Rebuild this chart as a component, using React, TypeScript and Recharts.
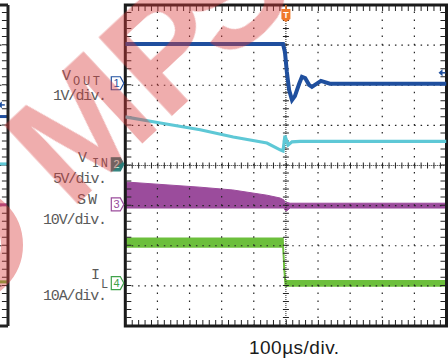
import {
  ComposedChart,
  Line,
  Area,
  XAxis,
  YAxis,
  ReferenceLine,
  ReferenceArea,
  ReferenceDot,
} from "recharts";

// x: time in µs (100µs/div, trigger at 0). y: screen divisions (0 = bottom, 8 = top)
const voutT = [-500, -9, -3, 3, 10, 19, 28, 41, 50, 60, 72, 81, 94, 109, 137, 500];
const voutDiv = [7.03, 7.03, 6.83, 6.33, 5.88, 5.63, 5.73, 6.03, 6.21, 6.18, 6.01, 5.96, 6.03, 6.11, 6.04, 6.04];

const vinT = [-500, -391, -267, -164, -59, -18, -9, -3, 7, 19, 44, 500];
const vinDiv = [5.21, 5.06, 4.89, 4.71, 4.56, 4.39, 4.36, 4.74, 4.51, 4.59, 4.6, 4.6];

const swT = [-500, -268, -165, -59, -18, -6, -3, 3, 13, 500];
const swLow = [2.94, 2.94, 2.94, 2.94, 2.94, 2.94, 2.89, 2.87, 2.94, 2.94];
const swHigh = [3.59, 3.46, 3.39, 3.26, 3.19, 3.14, 3.06, 3.08, 3.06, 3.06];

const ilT = [-500, -9, -6, -2, 500];
const ilLow = [1.97, 1.97, 1.45, 1.0, 1.0];
const ilHigh = [2.19, 2.19, 1.6, 1.13, 1.13];

// channel reference markers (1..4) and the ref arrow on the right
const chLabels = ["1", "2", "3", "4"];
const chLevels = [6.05, 4.03, 3.03, 1.07];
const refArrowLevel = 6.31;

// previous screen, cut off on the left
const leftLevels = [5.22, 4.04, 3.02, 1.1];
const leftArrowLevel = 5.51;

const gridX = [-400, -300, -200, -100, 100, 200, 300, 400];
const gridY = [1, 2, 3, 5, 6, 7];

const C_VOUT = "#1f4f9e";
const C_VIN = "#5ec8d6";
const C_SW = "#9b4c9c";
const C_IL = "#6cbf3c";
const chColors = [C_VOUT, "#2a7d79", C_SW, "#3fa24a"];
const INK = "#222";

const voutData = voutT.map((t, i) => ({ t, v: voutDiv[i] }));
const vinData = vinT.map((t, i) => ({ t, v: vinDiv[i] }));
const swData = swT.map((t, i) => ({ t, v: [swLow[i], swHigh[i]] }));
const ilData = ilT.map((t, i) => ({ t, v: [ilLow[i], ilHigh[i]] }));

const ChannelTag = ({ cx, cy, color, label, filled }: any) => (
  <g>
    <path
      d={`M${cx - 14},${cy - 6.5} h9 l3.5,6.5 l-3.5,6.5 h-9 z`}
      fill={filled ? color : "#fff"}
      stroke={color}
      strokeWidth={1.2}
    />
    <text
      x={cx - 8.7}
      y={cy + 4}
      textAnchor="middle"
      fontSize={11}
      fontFamily="Liberation Sans, Arial"
      fill={filled ? "#cfe" : color}
    >
      {label}
    </text>
  </g>
);

const TriggerTag = ({ cx, cy }: any) => (
  <g>
    <line x1={cx} x2={cx} y1={cy} y2={cy + 4} stroke="#f07a2a" strokeWidth={1.5} />
    <path d={`M${cx - 4.5},${cy + 4} h9 v10 l-4.5,3 l-4.5,-3 z`} fill="#f07a2a" />
    <text
      x={cx}
      y={cy + 13}
      textAnchor="middle"
      fontSize={9}
      fontWeight="bold"
      fontFamily="Liberation Sans, Arial"
      fill="#fff"
    >
      T
    </text>
  </g>
);

const LeftArrow = ({ cx, cy, dx = 0 }: any) => (
  <g>
    <path d={`M${cx + dx - 7},${cy} l4,-3.5 v7 z`} fill={C_VOUT} />
    <line x1={cx + dx - 4} x2={cx + dx} y1={cy} y2={cy} stroke={C_VOUT} strokeWidth={1.5} />
  </g>
);

const dotted = { stroke: INK, strokeWidth: 1.2 };

function LeftPanel() {
  return (
    <ComposedChart
      width={10}
      height={360}
      margin={{ top: 5, right: 2, bottom: 34, left: 0 }}
      style={{ position: "absolute", left: 0, top: 0 }}
    >
      <XAxis type="number" dataKey="t" domain={[0, 1]} hide />
      <YAxis type="number" domain={[0, 8]} hide />
      {[1, 2, 3, 4, 5, 6, 7].map((y) => (
        <ReferenceLine key={y} y={y} {...dotted} strokeDasharray="1.5 4.92" />
      ))}
      <ReferenceLine x={0.55} stroke={INK} strokeWidth={5} strokeDasharray="1 7.025" />
      {leftLevels.map((lv, i) => (
        <Line
          key={i}
          data={[{ t: 0, v: lv }, { t: 1, v: lv }]}
          dataKey="v"
          stroke={[C_VOUT, C_VIN, C_SW, C_IL][i]}
          strokeWidth={3}
          dot={false}
          isAnimationActive={false}
        />
      ))}
      <ReferenceDot x={0.6} y={leftArrowLevel} r={1} shape={(p: any) => <LeftArrow {...p} />} />
      <ReferenceLine x={1} stroke={INK} strokeWidth={3} />
      <ReferenceLine y={0} stroke={INK} strokeWidth={3} />
      <ReferenceLine y={8} stroke={INK} strokeWidth={3} />
    </ComposedChart>
  );
}

function MainPanel() {
  return (
    <ComposedChart
      width={448}
      height={360}
      margin={{ top: 5, right: 1.5, bottom: 34, left: 125.3 }}
      style={{ position: "absolute", left: 0, top: 0 }}
    >
      <XAxis type="number" dataKey="t" domain={[-500, 500]} hide allowDataOverflow />
      <YAxis type="number" domain={[0, 8]} hide allowDataOverflow />

      {gridX.map((x) => (
        <ReferenceLine key={"gx" + x} x={x} {...dotted} strokeDasharray="1.5 6.525" />
      ))}
      {gridY.map((y) => (
        <ReferenceLine key={"gy" + y} y={y} {...dotted} strokeDasharray="1.5 4.92" />
      ))}
      <ReferenceLine x={0} stroke={INK} strokeWidth={1} strokeDasharray="1 1" />
      <ReferenceLine x={0} stroke={INK} strokeWidth={6} strokeDasharray="1 7.025" />
      <ReferenceLine y={4} stroke={INK} strokeWidth={1} strokeDasharray="1 1" />
      <ReferenceLine y={4} stroke={INK} strokeWidth={6} strokeDasharray="1 5.42" />
      <ReferenceLine x={-489} stroke={INK} strokeWidth={5} strokeDasharray="1 7.025" />
      <ReferenceLine x={489} stroke={INK} strokeWidth={5} strokeDasharray="1 7.025" />
      <ReferenceLine y={0.087} stroke={INK} strokeWidth={5} strokeDasharray="1 5.42" />
      <ReferenceLine y={7.913} stroke={INK} strokeWidth={5} strokeDasharray="1 5.42" />

      <Area
        data={swData}
        dataKey="v"
        type="linear"
        stroke={C_SW}
        strokeWidth={1}
        fill={C_SW}
        fillOpacity={1}
        isAnimationActive={false}
      />
      <Area
        data={ilData}
        dataKey="v"
        type="linear"
        stroke={C_IL}
        strokeWidth={1.5}
        fill={C_IL}
        fillOpacity={1}
        isAnimationActive={false}
      />
      <Line
        data={vinData}
        dataKey="v"
        type="linear"
        stroke={C_VIN}
        strokeWidth={3.2}
        dot={false}
        isAnimationActive={false}
      />
      <Line
        data={voutData}
        dataKey="v"
        type="linear"
        stroke={C_VOUT}
        strokeWidth={4}
        dot={false}
        isAnimationActive={false}
      />

      <ReferenceArea
        x1={-500}
        x2={500}
        y1={0}
        y2={8}
        fill="none"
        fillOpacity={0}
        stroke="#1a1a1a"
        strokeWidth={3}
      />

      {chLevels.map((lv, i) => (
        <ReferenceDot
          key={"ch" + i}
          x={-500}
          y={lv}
          r={1}
          ifOverflow="visible"
          shape={(p: any) => (
            <ChannelTag {...p} color={chColors[i]} label={chLabels[i]} filled={i === 1} />
          )}
        />
      ))}
      <ReferenceDot x={0} y={8} r={1} ifOverflow="visible" shape={(p: any) => <TriggerTag {...p} />} />
      <ReferenceDot
        x={500}
        y={refArrowLevel}
        r={1}
        ifOverflow="visible"
        shape={(p: any) => <LeftArrow {...p} dx={-1} />}
      />
    </ComposedChart>
  );
}

const mono = { fontFamily: "Liberation Mono, monospace", fill: "#5a5a5a" };

function Labels() {
  return (
    <svg
      width={448}
      height={360}
      style={{ position: "absolute", left: 0, top: 0, pointerEvents: "none" }}
    >
      <text x={62} y={80} fontSize={15} {...mono}>V</text>
      <text x={73} y={85} fontSize={12} textLength={27} {...mono}>OUT</text>
      <text x={53} y={100} fontSize={15} textLength={54} {...mono}>1V/div.</text>
      <text x={78} y={162} fontSize={15} {...mono}>V</text>
      <text x={92} y={167} fontSize={12} textLength={16} {...mono}>IN</text>
      <text x={53} y={183} fontSize={15} textLength={54} {...mono}>5V/div.</text>
      <text x={77} y={204} fontSize={15} textLength={20} {...mono}>SW</text>
      <text x={43} y={224} fontSize={15} textLength={64} {...mono}>10V/div.</text>
      <text x={91} y={279} fontSize={15} {...mono}>I</text>
      <text x={101} y={288} fontSize={12} {...mono}>L</text>
      <text x={43} y={300} fontSize={15} textLength={64} {...mono}>10A/div.</text>
      <text
        x={249}
        y={354}
        fontSize={19}
        textLength={90}
        fontFamily="Liberation Sans, Arial"
        fill="#1a1a1a"
      >
        100µs/div.
      </text>
      <g opacity={0.42}>
        <circle cx={-35} cy={245} r={47} fill="none" stroke="#d83c3c" strokeWidth={22} />
        <g transform="translate(70,211) rotate(-43)">
          <text x={0} y={0} fontSize={155} fontWeight="bold" fontFamily="Liberation Sans, Arial" fill="#d83c3c">
            MP<tspan dx={-20}>S</tspan>
          </text>
        </g>
      </g>
    </svg>
  );
}

export default function App() {
  return (
    <div
      style={{
        position: "fixed",
        left: 0,
        top: 0,
        width: 448,
        height: 360,
        background: "#fff",
        overflow: "hidden",
      }}
    >
      <LeftPanel />
      <MainPanel />
      <Labels />
    </div>
  );
}
